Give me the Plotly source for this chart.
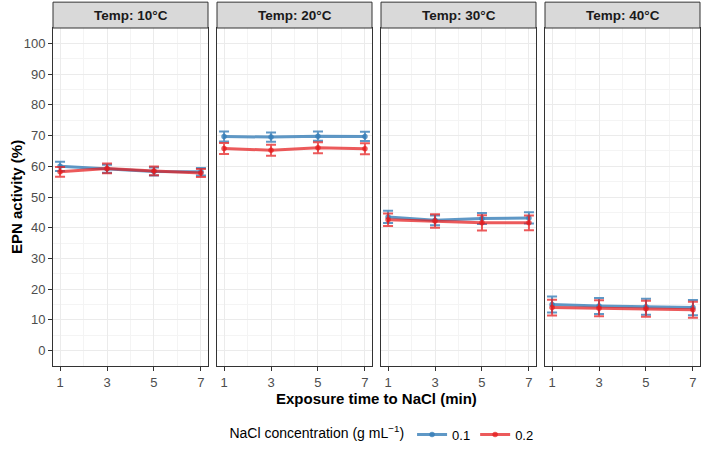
import plotly.graph_objects as go

temps = ["Temp: 10°C", "Temp: 20°C", "Temp: 30°C", "Temp: 40°C"]
times = [1, 3, 5, 7]
conc_labels = ["0.1", "0.2"]
colors = ["rgba(55,126,184,0.8)", "rgba(228,26,28,0.72)"]

# mean activity per temperature panel, per concentration
act_01 = [
    [60.0, 59.2, 58.3, 58.2],
    [69.7, 69.5, 69.8, 69.7],
    [43.5, 42.4, 43.0, 43.2],
    [15.0, 14.5, 14.3, 14.0],
]
act_02 = [
    [58.2, 59.3, 58.5, 57.8],
    [65.8, 65.2, 66.0, 65.7],
    [42.6, 42.2, 41.6, 41.6],
    [14.0, 13.8, 13.6, 13.3],
]
err_01 = [
    [1.5, 1.3, 1.3, 1.2],
    [1.6, 1.5, 1.5, 1.5],
    [2.0, 1.6, 1.8, 1.8],
    [2.6, 2.6, 2.6, 2.5],
]
err_02 = [
    [1.6, 1.6, 1.4, 1.3],
    [1.8, 1.8, 1.8, 1.8],
    [2.0, 2.2, 2.5, 2.4],
    [2.6, 2.6, 2.6, 2.6],
]

W, H = 709, 459
ml, mr, mt, mb = 53, 9, 28, 91
pw = W - ml - mr
ph = H - mt - mb
panel_w, gap = 155, 9

fig = go.Figure()
font_family = "Liberation Sans, Arial, sans-serif"

for i, t in enumerate(temps):
    xa = "x" if i == 0 else f"x{i+1}"
    ya = "y" if i == 0 else f"y{i+1}"
    for j, (vals, errs) in enumerate([(act_01[i], err_01[i]), (act_02[i], err_02[i])]):
        fig.add_trace(go.Scatter(
            x=times, y=vals, mode="lines+markers",
            line=dict(color=colors[j], width=3),
            marker=dict(color=colors[j], size=5.5),
            error_y=dict(type="data", array=errs, color=colors[j], thickness=2, width=5),
            name=conc_labels[j], legendgroup=conc_labels[j], showlegend=(i == 0),
            xaxis=xa, yaxis=ya,
        ))
    d0 = i * (panel_w + gap) / pw
    d1 = d0 + panel_w / pw
    axkw = dict(
        range=[0.7, 7.3], tickvals=times, domain=[d0, d1], anchor=ya,
        showline=True, linecolor="#333333", linewidth=1, mirror=True,
        ticks="outside", ticklen=4, tickcolor="#333333",
        showgrid=True, gridcolor="#EBEBEB", gridwidth=1,
        minor=dict(tickvals=[2, 4, 6], showgrid=True, gridcolor="#F4F4F4", ticks=""),
        zeroline=False, tickfont=dict(size=13, color="#4D4D4D", family=font_family),
    )
    ykw = dict(
        range=[-5, 105], tickvals=list(range(0, 101, 10)), anchor=xa,
        showline=True, linecolor="#333333", linewidth=1, mirror=True,
        ticks="outside" if i == 0 else "", ticklen=4, tickcolor="#333333",
        showticklabels=(i == 0),
        showgrid=True, gridcolor="#EBEBEB", gridwidth=1,
        minor=dict(tickvals=list(range(5, 100, 10)), showgrid=True, gridcolor="#F4F4F4", ticks=""),
        zeroline=False, tickfont=dict(size=13, color="#4D4D4D", family=font_family),
    )
    if i == 0:
        fig.update_layout(xaxis=axkw, yaxis=ykw)
    else:
        fig.update_layout(**{f"xaxis{i+1}": axkw, f"yaxis{i+1}": ykw})
    # strip
    sh = 26 / ph
    fig.add_shape(type="rect", xref="paper", yref="paper", x0=d0, x1=d1, y0=1, y1=1 + sh,
                  fillcolor="#D9D9D9", line=dict(color="#333333", width=1), layer="above")
    fig.add_annotation(text=f"<b>{t}</b>", xref="paper", yref="paper", x=(d0 + d1) / 2,
                       y=1 + sh / 2, showarrow=False, xanchor="center", yanchor="middle",
                       font=dict(size=13.5, color="#1A1A1A", family=font_family))

fig.add_annotation(text="<b>Exposure time to NaCl (min)</b>", xref="paper", yref="paper",
                   x=0.5, y=-22 / ph, xanchor="center", yanchor="top", showarrow=False,
                   font=dict(size=15, color="black", family=font_family))
fig.add_annotation(text="<b>EPN activity (%)</b>", xref="paper", yref="paper",
                   x=-37 / pw, y=0.5, xanchor="center", yanchor="middle", textangle=-90,
                   showarrow=False,
                   font=dict(size=15, color="black", family=font_family))

fig.update_layout(
    width=W, height=H, margin=dict(l=ml, r=mr, t=mt, b=mb),
    plot_bgcolor="white", paper_bgcolor="white",
    font=dict(family=font_family),
    legend=dict(orientation="h", x=0.51, xanchor="center", y=-69 / ph, yanchor="middle",
                title=dict(text="NaCl concentration (g mL<sup>−1</sup>)", side="left",
                           font=dict(size=14, color="black")),
                font=dict(size=13, color="black"), itemwidth=30),
    showlegend=True,
)

fig.write_html("out.html")
